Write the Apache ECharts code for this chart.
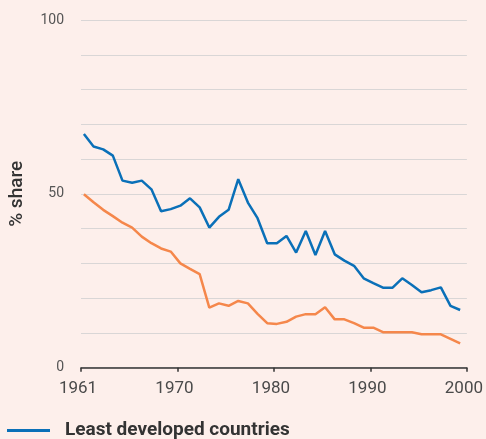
<!DOCTYPE html>
<html>
<head>
<meta charset="utf-8">
<script src="https://cdn.jsdelivr.net/npm/echarts@6/dist/echarts.min.js"></script>
<style>
  html, body { margin: 0; padding: 0; background: #fdefeb; }
  #chartmain { width: 486px; height: 439px; }
</style>
</head>
<body>
<div id="chartmain"></div>
<script>
// years of the series
var years = [];
for (var y = 1961; y <= 2000; y++) { years.push(y); }

// least developed countries, % share
var ldcShare = [67.2, 63.6, 62.8, 61.0, 53.8, 53.2, 53.8, 51.3, 45.0, 45.6,
                46.6, 48.7, 46.1, 40.3, 43.4, 45.4, 54.2, 47.5, 43.0, 35.8,
                35.8, 37.9, 33.1, 39.3, 32.4, 39.3, 32.6, 30.8, 29.3, 25.7,
                24.3, 23.0, 23.0, 25.7, 23.8, 21.7, 22.3, 23.1, 17.8, 16.6];

// other series (orange)
var otherShare = [49.9, 47.6, 45.4, 43.6, 41.7, 40.3, 37.7, 35.8, 34.3, 33.4,
                  30.0, 28.4, 26.9, 17.3, 18.5, 17.8, 19.2, 18.5, 15.5, 12.8,
                  12.6, 13.2, 14.7, 15.4, 15.4, 17.4, 13.9, 13.9, 12.8, 11.5,
                  11.5, 10.2, 10.2, 10.2, 10.2, 9.6, 9.6, 9.6, 8.3, 7.0];

var xTickLabels = { 1960: '1961', 1970: '1970', 1980: '1980', 1990: '1990', 2000: '2000' };
var yTickLabels = { 0: '0', 50: '50', 100: '100' };

// points sit a little left of the year tick in the original
var xShift = 0.7;

function pairs(vals) {
	var out = [];
	for (var i = 0; i < vals.length; i++) {
		out.push([years[i] - xShift, vals[i]]);
	}
	return out;
}

var myChart = echarts.init(document.getElementById('chartmain'));
var option = {
	backgroundColor: '#fdefeb',
	animation: false,
	grid: { left: 80.6, right: 14.3, top: 20, bottom: 71.3 },
	legend: {
		data: ['Least developed countries'],
		left: 2,
		top: 416,
		orient: 'vertical',
		icon: 'rect',
		itemWidth: 43,
		itemHeight: 3,
		textStyle: {
			fontFamily: 'Roboto',
			fontSize: 19,
			fontWeight: 'bold',
			color: '#333333',
			padding: [0, 0, 0, 10]
		}
	},
	xAxis: {
		type: 'value',
		min: 1960,
		max: 2000,
		interval: 10,
		splitLine: { show: false },
		axisLine: { show: true, lineStyle: { color: '#333333', width: 1.5 } },
		axisTick: { show: true, length: 4, lineStyle: { color: '#333333', width: 1.5 } },
		axisLabel: {
			margin: 13,
			fontFamily: 'Roboto',
			fontSize: 17,
			color: '#4a4a4a',
			padding: [0, 6, 0, 0],
			formatter: function (v) { return xTickLabels[v] || ''; }
		}
	},
	yAxis: {
		type: 'value',
		min: 0,
		max: 100,
		interval: 10,
		name: '% share',
		nameLocation: 'middle',
		nameRotate: 90,
		nameGap: 54,
		nameTextStyle: { fontFamily: 'Roboto', fontSize: 19, fontWeight: 500, color: '#333333' },
		axisLine: { show: false },
		axisTick: { show: false },
		splitLine: { lineStyle: { color: '#d9d6d6', width: 1 } },
		axisLabel: {
			margin: 17,
			fontFamily: 'Roboto',
			fontSize: 14,
			color: '#555555',
			formatter: function (v) { return yTickLabels[v] || ''; }
		}
	},
	series: [
		{
			name: 'Least developed countries',
			type: 'line',
			data: pairs(ldcShare),
			showSymbol: false,
			lineStyle: { color: '#0a70b8', width: 2.5 },
			itemStyle: { color: '#0a70b8' },
			z: 3
		},
		{
			name: 'Other',
			type: 'line',
			data: pairs(otherShare),
			showSymbol: false,
			lineStyle: { color: '#f5874b', width: 2.5 },
			itemStyle: { color: '#f5874b' },
			z: 2
		}
	]
};
myChart.setOption(option);
</script>
</body>
</html>
